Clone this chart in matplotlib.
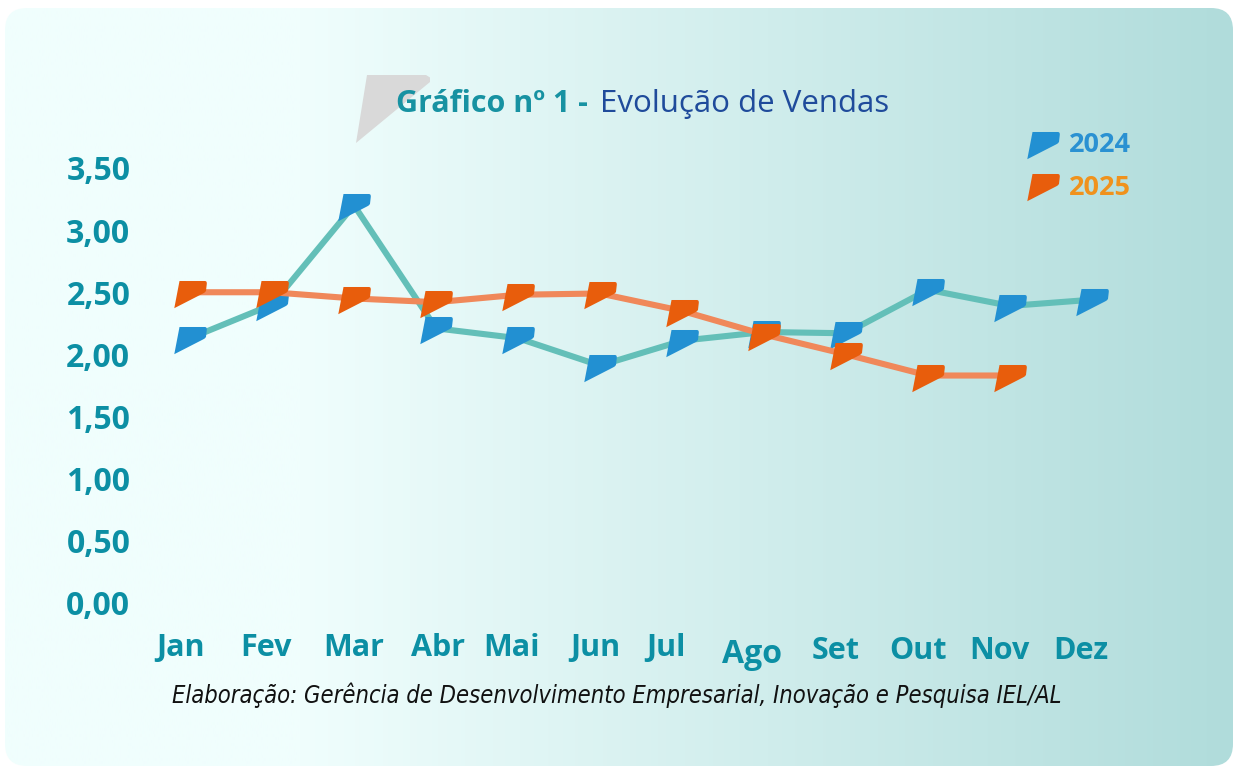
import matplotlib
matplotlib.use("Agg")
import matplotlib.pyplot as plt
import numpy as np
from matplotlib.path import Path
from matplotlib.patches import FancyBboxPatch, Polygon
from matplotlib.lines import Line2D
import matplotlib.transforms as mtransforms

# ---------------- data ----------------
months = ["Jan", "Fev", "Mar", "Abr", "Mai", "Jun", "Jul", "Ago", "Set", "Out", "Nov", "Dez"]
vendas_2024 = [2.13, 2.40, 3.20, 2.21, 2.13, 1.91, 2.11, 2.18, 2.17, 2.52, 2.39, 2.44]
vendas_2025 = [2.50, 2.50, 2.45, 2.42, 2.48, 2.49, 2.35, 2.16, 2.00, 1.83, 1.83]
y_ticks = [0.0, 0.5, 1.0, 1.5, 2.0, 2.5, 3.0, 3.5]
series_labels = ["2024", "2025"]

title_bold = "Gráfico nº 1 - "
title_regular = "Evolução de Vendas"
footer = "Elaboração: Gerência de Desenvolvimento Empresarial, Inovação e Pesquisa IEL/AL"

# ---------------- style ----------------
W, H = 1236, 769
teal_line = "#63BFB8"
blue_mark = "#2290D2"
orange_line = "#F0885A"
orange_mark = "#E85D0C"
tick_color = "#0C8FA4"

fig = plt.figure(figsize=(W / 100, H / 100), dpi=100)
fig.patch.set_facecolor("white")

# background panel with gradient
bg = fig.add_axes([0, 0, 1, 1])
bg.set_xlim(0, W)
bg.set_ylim(H, 0)
bg.axis("off")
c_left = np.array([240, 254, 253]) / 255
c_right = np.array([176, 220, 219]) / 255
xs = np.linspace(0, W, 600)
t = np.clip((xs - 300) / (W - 300), 0, 1)[:, None]
grad = (c_left * (1 - t) + c_right * t)[None, :, :]
panel = FancyBboxPatch((5, 8), 1228, 758, boxstyle="round,pad=0,rounding_size=22",
                       transform=bg.transData, facecolor="none", edgecolor="none")
bg.add_patch(panel)
im = bg.imshow(grad, extent=(0, W, H, 0), aspect="auto", interpolation="bilinear")
im.set_clip_path(panel)

# gray decorative shape behind the title
bg.add_patch(Polygon([(367, 75), (426, 75), (430, 77.5), (430, 82), (356, 143)],
                     closed=True, facecolor="#D9D9D9", edgecolor="none", zorder=2))

# custom marker (skewed tab shape)
verts = [(-10.5, 11), (14.2, 11), (15.4, 10.2), (15.6, 8.5), (14.8, 1.5), (13.8, 0.2),
         (12.2, -0.8), (-15.5, -15), (-10.5, 11)]
codes = [Path.MOVETO] + [Path.LINETO] * (len(verts) - 2) + [Path.CLOSEPOLY]
tab = Path(verts, codes)
msize = 23.5

# ---------------- main axes ----------------
x_left, x_right = 149, 1133
y_top, y_bot = 143.1, 615.4
ax = fig.add_axes([x_left / W, 1 - y_bot / H, (x_right - x_left) / W, (y_bot - y_top) / H])
ax.set_facecolor("none")
ax.set_xlim(-0.5, 11.5)
ax.set_ylim(-0.1, 3.7)
for s in ax.spines.values():
    s.set_visible(False)

x24 = np.arange(len(vendas_2024))
x25 = np.arange(len(vendas_2025))
ax.plot(x24, vendas_2024, color=teal_line, lw=4.4, solid_capstyle="round", zorder=2)
ax.plot(x24, vendas_2024, linestyle="none", marker=tab, markersize=msize,
        markerfacecolor=blue_mark, markeredgecolor="none", zorder=3)
ax.plot(x25, vendas_2025, color=orange_line, lw=4.4, solid_capstyle="round", zorder=4)
ax.plot(x25, vendas_2025, linestyle="none", marker=tab, markersize=msize,
        markerfacecolor=orange_mark, markeredgecolor="none", zorder=5)

ax.set_yticks(y_ticks)
ax.set_yticklabels([f"{v:.2f}".replace(".", ",") for v in y_ticks])
ax.set_xticks(x24)
ax.set_xticklabels(months)
ax.tick_params(axis="both", length=0, colors=tick_color)
ax.tick_params(axis="y", pad=13.5)
ax.tick_params(axis="x", pad=13)
for lab in ax.get_yticklabels():
    lab.set_fontfamily("Open Sans")
    lab.set_fontweight("bold")
    lab.set_fontsize(23)
# individual nudges of the month labels (pixels), as in the original layout
lab_dx = [-10, -6, 0, 2, -6, -5, -16, -12, -10, -10, -11, -11]
lab_dy = [0, 0, 0, 0, 0, 0, 0, -5, -3, -3, -3, -3]
for lab, dx, dy in zip(ax.get_xticklabels(), lab_dx, lab_dy):
    lab.set_fontfamily("Open Sans")
    lab.set_fontweight("bold")
    lab.set_fontsize(23 if lab.get_text() == "Ago" else 22)
    off = mtransforms.ScaledTranslation(dx / 100, dy / 100, fig.dpi_scale_trans)
    lab.set_transform(lab.get_transform() + off)

# legend
handles = [Line2D([], [], linestyle="none", marker=tab, markersize=msize,
                  markerfacecolor=blue_mark, markeredgecolor="none"),
           Line2D([], [], linestyle="none", marker=tab, markersize=msize,
                  markerfacecolor=orange_mark, markeredgecolor="none")]
leg = fig.legend(handles, series_labels, loc="upper left",
                 bbox_to_anchor=(1004 / W, 1 - 108 / H), frameon=False,
                 handlelength=1.1, handletextpad=0.4, labelspacing=0.6,
                 prop={"family": "Open Sans", "weight": "bold", "size": 19.5},
                 labelcolor=["#2A91D2", "#F0921C"])

# title
fig.text(396 / W, 1 - 112 / H, title_bold, fontfamily="Open Sans", fontweight="bold",
         fontsize=22, color="#1792A2", ha="left", va="baseline")
fig.text(600 / W, 1 - 112 / H, title_regular, fontfamily="Open Sans",
         fontsize=22.5, color="#1F4B9B", ha="left", va="baseline")

# footer
fig.text(172 / W, 1 - 703 / H, footer, fontfamily="DejaVu Sans", fontstretch="condensed",
         style="italic", fontsize=17, color="#111111", ha="left", va="baseline")

fig.savefig("out.png", dpi=100, facecolor="white")
